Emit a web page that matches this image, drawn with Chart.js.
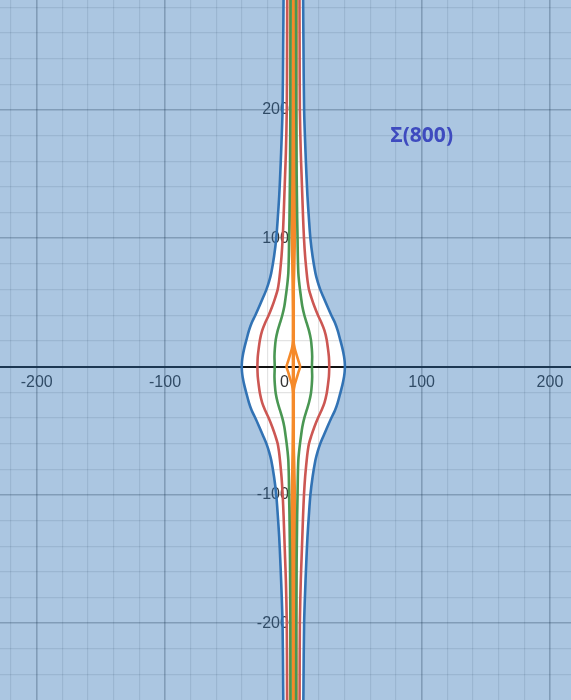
<!DOCTYPE html>
<html>
<head>
<meta charset="utf-8">
<title>Σ(800)</title>
<script src="https://cdn.jsdelivr.net/npm/chart.js@4.4.1/dist/chart.umd.min.js"></script>
<style>
    html, body { margin: 0; padding: 0; background: #fff; }
    #graph { display: block; }
</style>
</head>
<body>
<canvas id="graph" width="571" height="700"></canvas>
<script>
'use strict';

// visible window (graph units)
var xRange = [-228.6, 216.4];
var yRange = [-259.8, 285.7];
var labelledTicks = [-200, -100, 100, 200];

var yLevels   = [0, 4, 8, 14, 21, 28, 34, 40, 47, 54, 60, 66, 73, 86, 100, 116, 133, 150, 167, 200, 250, 290, 350, 420];
var blueHalf  = [40.2, 40.0, 39.5, 38.3, 36.5, 34.6, 32.5, 29.6, 26.5, 23.5, 21.0, 19.0, 17.2, 15.0, 13.3, 12.1, 11.0, 10.2, 9.5, 8.4, 7.9, 7.6, 7.5, 7.4];
var redHalf   = [28.0, 27.9, 27.7, 27.0, 26.0, 24.3, 22.0, 19.2, 16.4, 14.0, 12.2, 11.2, 10.4, 9.2, 8.3, 7.6, 7.0, 6.4, 5.8, 5.1, 4.9, 4.8, 4.8, 4.8];
var greenHalf = [14.5, 14.6, 14.7, 14.4, 13.7, 12.2, 10.4, 8.6, 7.0, 6.0, 5.2, 4.5, 3.9, 3.5, 3.3, 3.0, 2.8, 2.6, 2.5, 2.3, 2.2, 2.1, 2.1, 2.1];
var orangeHalf = [5.3, 4.1, 2.9, 1.1, 0, 0, 0, 0, 0.1, 0.2, 0.3, 0.4, 0.6, 0.9, 1.2, 1.5, 1.7, 1.9, 2.1, 2.3, 2.5, 2.6, 2.6, 2.6];
var centreLine = [{x: 0, y: 420}, {x: 0, y: -420}];

var noteText = 'Σ(800)';
var notePos = [100, 180];

// one side of a curve, from the top down to the bottom
function branch(half, sign) {
    var pts = [];
    var i;
    for (i = yLevels.length - 1; i >= 0; i--) pts.push({x: sign * half[i], y: yLevels[i]});
    for (i = 1; i < yLevels.length; i++) pts.push({x: sign * half[i], y: -yLevels[i]});
    return pts;
}

// shaded area outside the blue curve, closed off beyond the visible window
function outside(sign) {
    var pts = [{x: sign * 400, y: 420}];
    pts = pts.concat(branch(blueHalf, sign));
    pts.push({x: sign * 400, y: -420});
    return pts;
}

function curve(data, color, width) {
    return {
        data: data,
        showLine: true,
        borderColor: color,
        borderWidth: width || 2.6,
        pointRadius: 0,
        tension: 0.3,
        fill: false
    };
}

function shade(data) {
    return {
        data: data,
        showLine: true,
        borderWidth: 0,
        borderColor: 'rgba(0,0,0,0)',
        backgroundColor: 'rgba(45,112,179,0.4)',
        pointRadius: 0,
        tension: 0.3,
        fill: 'shape'
    };
}

function gridColor(ctx) {
    if (!ctx.tick) return 'rgba(0,0,0,0)';
    var v = ctx.tick.value;
    if (v === 0) return 'rgba(0,0,0,0)';
    return v % 100 === 0 ? 'rgba(0,0,0,0.28)' : 'rgba(0,0,0,0.11)';
}

function gridWidth(ctx) {
    if (!ctx.tick) return 1;
    return ctx.tick.value % 100 === 0 ? 1.6 : 1.2;
}

// axes sit on the origin and must not eat into the plot area
function noBox(scale) {
    if (scale.isHorizontal()) scale.height = 0;
    else scale.width = 0;
    scale.paddingTop = 0;
    scale.paddingBottom = 0;
    scale.paddingLeft = 0;
    scale.paddingRight = 0;
}

var tickFont = {family: '"Liberation Sans", Arial, sans-serif', size: 16};

var noteLabel = {
    id: 'noteLabel',
    afterDatasetsDraw: function (chart) {
        var ctx = chart.ctx;
        ctx.save();
        ctx.font = 'bold 21px "Open Sans", sans-serif';
        ctx.fillStyle = '#3e4bbf';
        ctx.textAlign = 'center';
        ctx.textBaseline = 'middle';
        ctx.fillText(noteText, chart.scales.x.getPixelForValue(notePos[0]), chart.scales.y.getPixelForValue(notePos[1]));
        ctx.restore();
    }
};

new Chart('graph', {
    type: 'scatter',
    data: {
        datasets: [
            shade(outside(-1)),
            shade(outside(1)),
            curve(branch(blueHalf, -1), '#3474b5'),
            curve(branch(blueHalf, 1), '#3474b5'),
            curve(branch(redHalf, -1), '#cc5753'),
            curve(branch(redHalf, 1), '#cc5753'),
            curve(branch(greenHalf, -1), '#4a9753'),
            curve(branch(greenHalf, 1), '#4a9753'),
            curve(centreLine, '#f58a2a', 3.4),
            curve(branch(orangeHalf, -1), '#f58a2a'),
            curve(branch(orangeHalf, 1), '#f58a2a')
        ]
    },
    options: {
        responsive: false,
        animation: false,
        layout: {padding: 0, autoPadding: false},
        plugins: {
            legend: {display: false},
            tooltip: {enabled: false}
        },
        scales: {
            x: {
                type: 'linear',
                min: xRange[0],
                max: xRange[1],
                position: {y: 0},
                afterFit: noBox,
                grid: {color: gridColor, lineWidth: gridWidth, drawTicks: false},
                border: {display: true, color: '#111', width: 2},
                ticks: {
                    stepSize: 20,
                    includeBounds: false,
                    autoSkip: false,
                    maxRotation: 0,
                    minRotation: 0,
                    padding: 6,
                    color: '#333',
                    font: tickFont,
                    callback: function (v) {
                        if (v === 0) return '0    ';
                        return labelledTicks.indexOf(v) >= 0 ? String(v) : '';
                    }
                }
            },
            y: {
                type: 'linear',
                min: yRange[0],
                max: yRange[1],
                position: {x: 0},
                afterFit: noBox,
                grid: {color: gridColor, lineWidth: gridWidth, drawTicks: false},
                border: {display: true, color: '#111', width: 2},
                ticks: {
                    stepSize: 20,
                    includeBounds: false,
                    autoSkip: false,
                    padding: 0,
                    color: '#333',
                    font: tickFont,
                    callback: function (v) {
                        return labelledTicks.indexOf(v) >= 0 ? v + ' ' : '';
                    }
                }
            }
        }
    },
    plugins: [noteLabel]
});
</script>
</body>
</html>
